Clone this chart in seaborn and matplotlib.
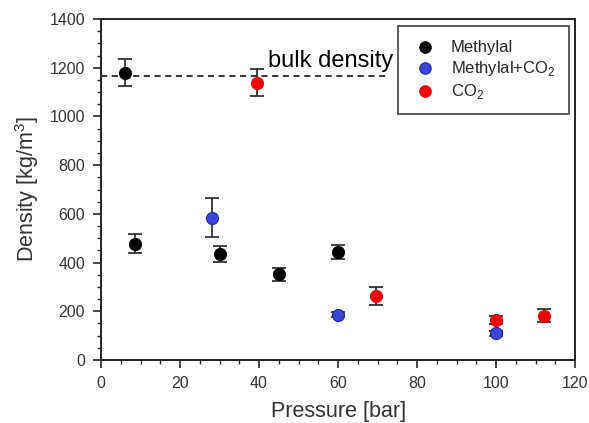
import numpy as np
import pandas as pd
import seaborn as sns
import matplotlib
matplotlib.use("Agg")
import matplotlib.pyplot as plt
from matplotlib.ticker import MultipleLocator

# Data
methylal_p = [6, 8.5, 30, 45, 60]
methylal_rho = [1180, 478, 435, 352, 444]
methylal_err = [55, 40, 33, 27, 30]

mix_p = [28, 60, 100]
mix_rho = [585, 185, 109]
mix_err = [80, 10, 12]

co2_p = [39.5, 69.5, 100, 112]
co2_rho = [1138, 264, 163, 182]
co2_err = [55, 37, 17, 26]

bulk_density = 1168
labels = ["Methylal", "Methylal+CO$_2$", "CO$_2$"]

df = pd.DataFrame({
    "p": methylal_p + mix_p + co2_p,
    "rho": methylal_rho + mix_rho + co2_rho,
    "err": methylal_err + mix_err + co2_err,
    "series": [labels[0]] * len(methylal_p) + [labels[1]] * len(mix_p) + [labels[2]] * len(co2_p),
})

sns.set_style("ticks")
plt.rcParams['font.family'] = ['Liberation Sans', 'DejaVu Sans']
plt.rcParams['mathtext.fontset'] = 'custom'
plt.rcParams['mathtext.rm'] = 'Liberation Sans'

colors = {labels[0]: "#000000", labels[1]: "#3a44d8", labels[2]: "#ee0000"}
edges = {labels[0]: "#000000", labels[1]: "#1a2a99", labels[2]: "#ee0000"}

fig = plt.figure(figsize=(5.89, 4.23), dpi=100)
ax = fig.add_axes([0.1715, 0.149, 0.805, 0.806])

# error bars first, then the markers on top
for name, g in df.groupby("series", sort=False):
    ax.errorbar(g["p"], g["rho"], yerr=g["err"], fmt="none", ecolor="#222222",
                elinewidth=1.2, capsize=5, capthick=1.2, zorder=2)
    sns.scatterplot(data=g, x="p", y="rho", color=colors[name], edgecolor=edges[name],
                    s=75, linewidth=0.8, zorder=3, label=name, ax=ax)

ax.plot([0, 73], [bulk_density, bulk_density], ls=(0, (4, 3)), color="black", lw=1.1, zorder=1)
ax.text(42.2, 1228, "bulk density", fontsize=17, va="center", ha="left", color="black")

ax.set_xlim(0, 120)
ax.set_ylim(0, 1400)
ax.xaxis.set_major_locator(MultipleLocator(20))
ax.xaxis.set_minor_locator(MultipleLocator(5))
ax.yaxis.set_major_locator(MultipleLocator(200))
ax.yaxis.set_minor_locator(MultipleLocator(50))
ax.tick_params(which="major", direction="out", length=5.5, width=1.2, labelsize=11.5,
               labelcolor="#333333", top=False, right=False, pad=6)
ax.tick_params(which="minor", direction="out", length=3, width=1.0, top=False, right=False)
for s in ax.spines.values():
    s.set_linewidth(1.4)
    s.set_color("#222222")

ax.set_xlabel("Pressure [bar]", fontsize=15.5, color="#333333", labelpad=7)
ax.set_ylabel("Density [kg/m$^3$]", fontsize=15.5, color="#333333", labelpad=6)

leg = ax.legend(loc="upper right", bbox_to_anchor=(0.987, 0.979), borderaxespad=0,
                fontsize=12, frameon=True, fancybox=False, edgecolor="#222222",
                borderpad=0.8, handlelength=1.6, handletextpad=0.75, labelspacing=0.25,
                markerscale=0.95)
leg.get_frame().set_linewidth(1.3)

fig.savefig("out.png", dpi=100)
